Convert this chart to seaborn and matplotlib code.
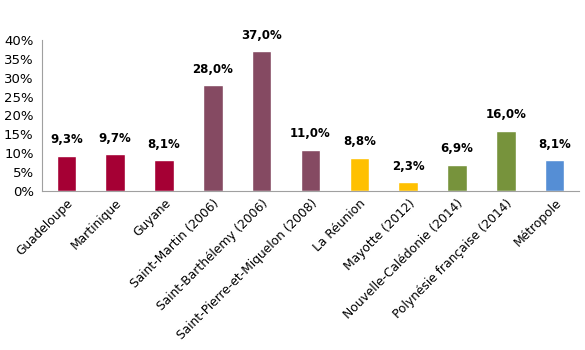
import matplotlib
matplotlib.use("Agg")
import matplotlib.pyplot as plt
import seaborn as sns
import pandas as pd
import numpy as np

categories = ["Guadeloupe", "Martinique", "Guyane", "Saint-Martin (2006)",
              "Saint-Barthélemy (2006)", "Saint-Pierre-et-Miquelon (2008)",
              "La Réunion", "Mayotte (2012)", "Nouvelle-Calédonie (2014)",
              "Polynésie française (2014)", "Métropole"]
values = [9.3, 9.7, 8.1, 28.0, 37.0, 11.0, 8.8, 2.3, 6.9, 16.0, 8.1]
colors = ["#A50034", "#A50034", "#A50034", "#854A62", "#854A62", "#854A62",
          "#FFC000", "#FFC000", "#77933C", "#77933C", "#558ED5"]
yticks = [0, 5, 10, 15, 20, 25, 30, 35, 40]

sns.set_style("white")
plt.rcParams['font.family'] = ['DejaVu Sans']
plt.rcParams['text.color'] = 'black'
plt.rcParams['xtick.color'] = 'black'
plt.rcParams['ytick.color'] = 'black'

df = pd.DataFrame({"cat": categories, "val": values})
fig = plt.figure(figsize=(5.85, 3.5), dpi=100)
ax = fig.add_axes([0.0718, 0.454, 0.918, 0.432])
sns.barplot(data=df, x="cat", y="val", hue="cat", palette=colors, legend=False,
            width=0.40, ax=ax, saturation=1)

ax.set_ylim(0, 40)
ax.set_xlim(-0.5, len(categories) - 0.5)
ax.set_yticks(yticks)
ax.set_yticklabels([f"{t}%" for t in yticks], fontsize=9.5, color="black")
ax.set_xticks(range(len(categories)))
ax.set_xticklabels(categories, rotation=45, ha="right", rotation_mode="anchor",
                   fontsize=8.8, color="black")
ax.tick_params(axis="x", length=0, pad=4)
ax.set_xticks(np.arange(-0.5, len(categories)), minor=True)
ax.tick_params(axis="x", which="minor", length=5, color="#A0A0A0", width=0.8, direction="out")
ax.tick_params(axis="y", length=4, color="#A0A0A0", width=0.8, direction="out", pad=2)
ax.set_xlabel("")
ax.set_ylabel("")
for s in ["top", "right"]:
    ax.spines[s].set_visible(False)
for s in ["left", "bottom"]:
    ax.spines[s].set_color("#A0A0A0")
    ax.spines[s].set_linewidth(0.8)

for i, v in enumerate(values):
    ax.annotate(f"{v:.1f}%".replace(".", ","), (i, v), xytext=(0, 7),
                textcoords="offset points", ha="center", va="bottom",
                fontsize=8.5, fontweight="bold", color="black")

fig.savefig("out.png", dpi=100)
